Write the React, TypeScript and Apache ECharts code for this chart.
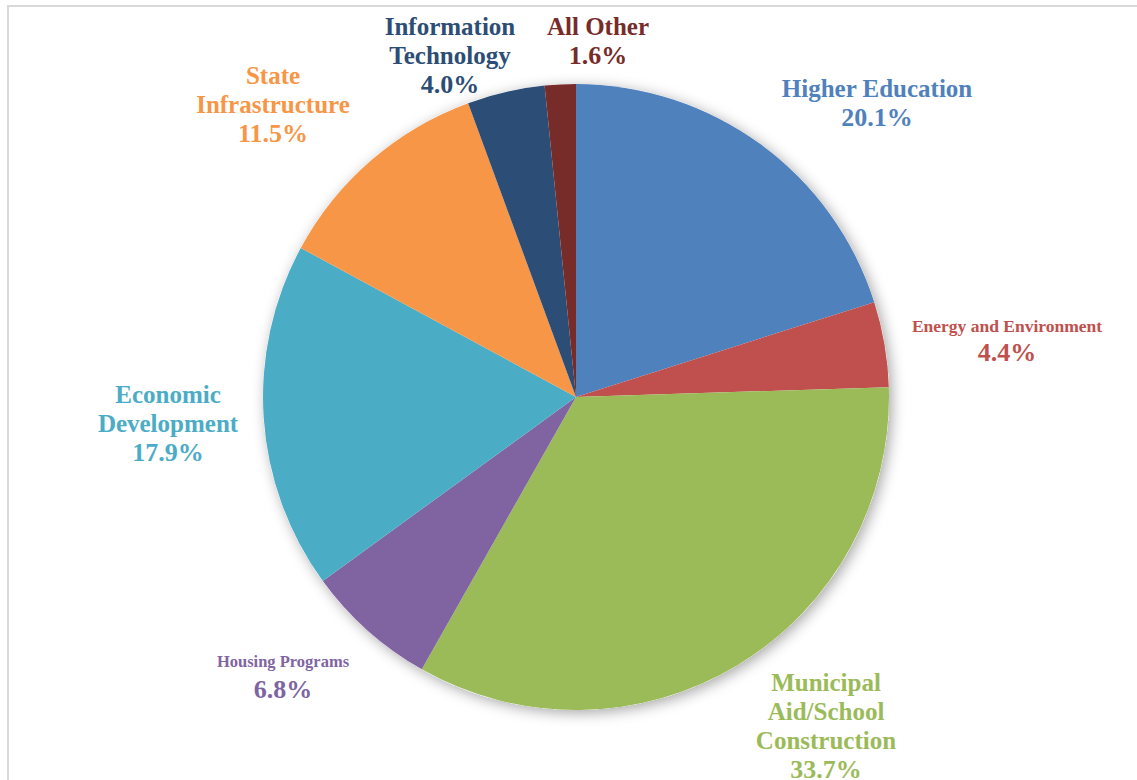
import React, { useEffect, useRef } from "react";
import * as echarts from "echarts";

const categories = [
  "Higher Education",
  "Energy and Environment",
  "Municipal\nAid/School\nConstruction",
  "Housing Programs",
  "Economic\nDevelopment",
  "State\nInfrastructure",
  "Information\nTechnology",
  "All Other",
];
const values = [20.1, 4.4, 33.7, 6.8, 17.9, 11.5, 4.0, 1.6];
const colors = ["#4F81BD", "#C0504D", "#9BBB59", "#8064A2", "#4BACC6", "#F79646", "#2C4D75", "#772C2A"];
const nameSize = [25, 17.5, 25, 16.5, 25, 25, 25, 25];
const nameLine = [29, 25, 29, 27, 29, 29, 29, 29];
const labelPos: [number, number][] = [
  [877, 103],
  [1007, 340],
  [826, 726],
  [283, 676],
  [168, 423],
  [273, 104],
  [450, 55],
  [598, 41],
];

const FONT = "Liberation Serif";

export default function App() {
  const ref = useRef<HTMLDivElement>(null);
  useEffect(() => {
    document.body.style.margin = "0";
    const chart = echarts.init(ref.current!, null, { renderer: "svg" });
    const data = categories.map((name, i) => ({
      name,
      value: values[i],
      itemStyle: { color: colors[i] },
      label: {
        color: colors[i],
        fontFamily: FONT,
        fontWeight: "bold",
        formatter: (p: any) =>
          "{n|" + p.name.split("\n").join("}\n{n|") + "}\n{v|" + Number(p.value).toFixed(1) + "%}",
        rich: {
          n: { fontSize: nameSize[i], fontWeight: "bold", fontFamily: FONT, color: colors[i], lineHeight: nameLine[i], align: "center" },
          v: { fontSize: 26, fontWeight: "bold", fontFamily: FONT, color: colors[i], lineHeight: 29, align: "center" },
        },
      },
    }));
    chart.setOption({
      animation: false,
      backgroundColor: "#ffffff",
      graphic: [
        {
          type: "rect",
          shape: { x: 8, y: 6, width: 1160, height: 800 },
          style: { fill: "none", stroke: "#d9d9d9", lineWidth: 2 },
          silent: true,
        },
      ],
      series: [
        {
          type: "pie",
          silent: true,
          center: [576, 397],
          radius: [0, 313],
          z: 1,
          label: { show: false },
          labelLine: { show: false },
          itemStyle: {
            color: "#ffffff",
            shadowBlur: 14,
            shadowColor: "rgba(0,0,0,0.35)",
            shadowOffsetX: 3,
            shadowOffsetY: 3,
          },
          data: [{ value: 1, name: "" }],
        },
        {
          type: "pie",
          center: [576, 397],
          radius: [0, 313],
          startAngle: 90,
          clockwise: true,
          z: 2,
          label: { show: true, position: "outside", fontFamily: FONT },
          labelLine: { show: false },
          labelLayout: (params: any) => {
            const p = labelPos[params.dataIndex];
            return { x: p[0], y: p[1], align: "center", verticalAlign: "middle", hideOverlap: false };
          },
          itemStyle: { borderWidth: 0 },
          emphasis: { disabled: true },
          data,
        },
      ],
    });
    return () => chart.dispose();
  }, []);
  return <div ref={ref} style={{ width: 1137, height: 780 }} />;
}
